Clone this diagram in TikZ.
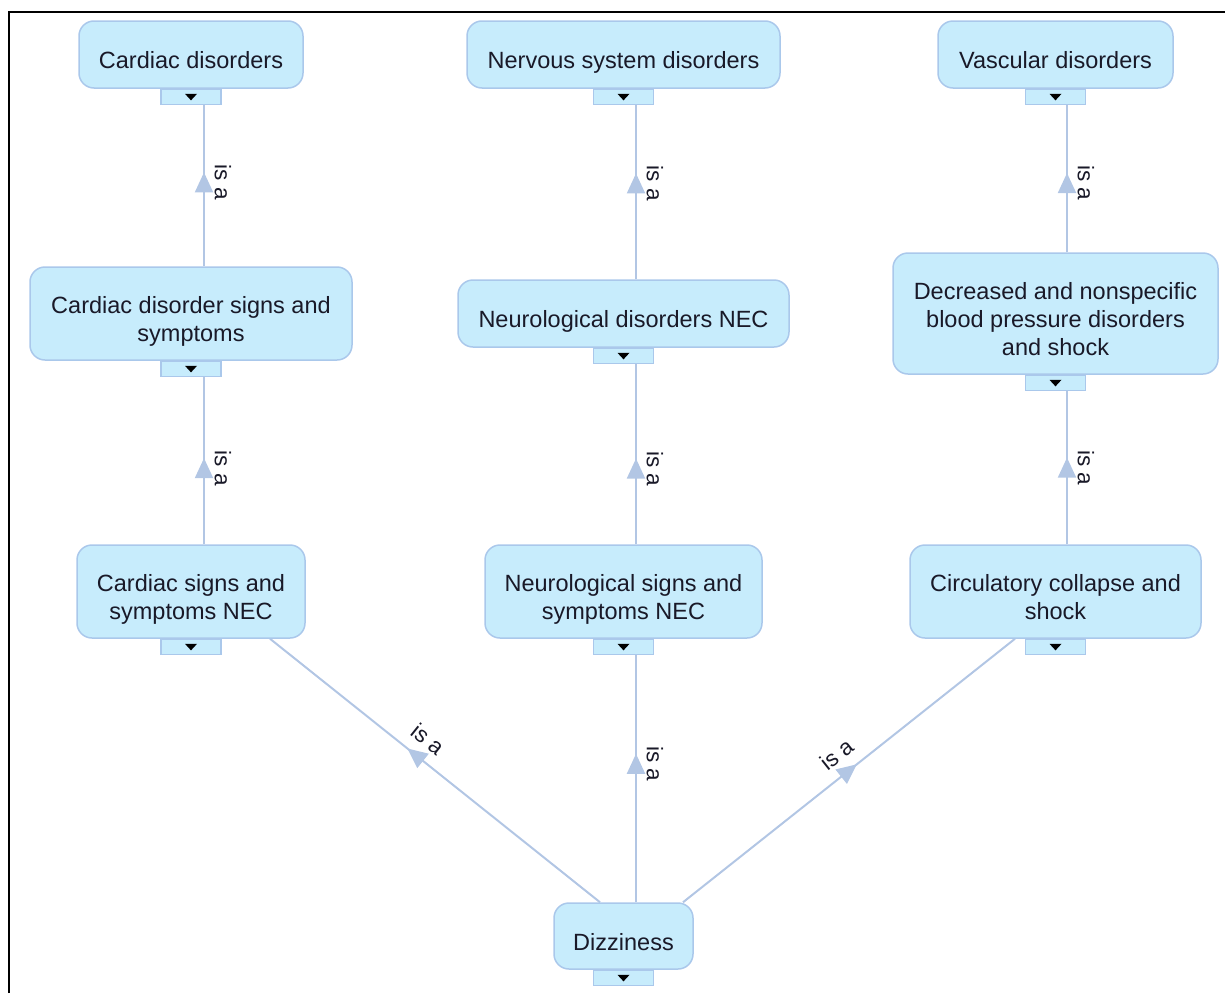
\documentclass[tikz,border=0pt]{standalone}
\usepackage{fontspec}
\setmainfont{Liberation Sans}
\usetikzlibrary{arrows.meta,decorations.markings,backgrounds}
\definecolor{nodefill}{RGB}{199,236,252}
\definecolor{nodeline}{RGB}{170,200,235}
\definecolor{edgecol}{RGB}{178,198,228}
\definecolor{txt}{RGB}{25,25,40}
\newcommand\tl[1]{\raisebox{0pt}[\dimexpr\height+17pt\relax][\depth]{\begin{tabular}{@{}c@{}}#1\end{tabular}}}
\tikzset{
  box/.style={draw=nodeline, fill=nodefill, line width=1.5pt, rounded corners=15pt,
    inner sep=0pt, font=\fontsize{23.5}{28}\selectfont, text=txt},
  tabbox/.style={draw=nodeline, fill=nodefill, line width=1.2pt, minimum width=60pt,
    minimum height=15pt, inner sep=0pt, anchor=north},
  isa/.style={draw=edgecol, line width=2pt},
  lab/.style={font=\fontsize{22.5}{26}\selectfont, inner sep=0pt, text=txt},
  vlab/.style={lab, xshift=19pt, rotate=-90},
  dlab/.style={lab, sloped, above=11pt}
}
\newcommand\mknode[6]{%
  \node[box, minimum width=#4pt, minimum height=#5pt] (#1) at (#2,#3) {\tl{#6}};
  \node[tabbox] (#1t) at (#1.south) {};
  \fill[black] ([xshift=-6pt,yshift=3pt]#1t.center) -- ([xshift=6pt,yshift=3pt]#1t.center)
     -- ([yshift=-3.5pt]#1t.center) -- cycle;
}
\newcommand\isaedge[4]{%
  \draw[isa, postaction={decorate}, decoration={markings, mark=at position #3 with
     {\arrow[edgecol, xshift=10pt]{Triangle[width=18pt,length=20pt]}}}]
     #1 -- #2 node[pos=#3, #4] {is a};
}
\begin{document}
\begin{tikzpicture}[x=1pt, y=-1pt]
\useasboundingbox (0,0) rectangle (1225,993);
\draw[line width=2pt] (9,993) -- (9,12) -- (1226,12);

\mknode{cd}{191}{54.5}{224}{67}{Cardiac disorders}
\mknode{nsd}{623.5}{54.5}{313}{67}{Nervous system disorders}
\mknode{vd}{1055.5}{54.5}{235}{67}{Vascular disorders}
\mknode{cdss}{191}{313.5}{322}{93}{Cardiac disorder signs and\\symptoms}
\mknode{nnec}{623.5}{313.5}{331}{67}{Neurological disorders NEC}
\mknode{dec}{1055.5}{313.5}{325}{121}{Decreased and nonspecific\\blood pressure disorders\\and shock}
\mknode{csnec}{191}{591.5}{228}{93}{Cardiac signs and\\symptoms NEC}
\mknode{nssnec}{623.5}{591.5}{277}{93}{Neurological signs and\\symptoms NEC}
\mknode{ccs}{1055.5}{591.5}{291}{93}{Circulatory collapse and\\shock}
\mknode{dz}{623.5}{936}{139}{66}{Dizziness}

\begin{pgfonlayer}{background}
\isaedge{([xshift=13pt]cdss.north)}{([xshift=13pt]cdt.south)}{0.52}{vlab}
\isaedge{([xshift=12.5pt]nnec.north)}{([xshift=12.5pt]nsdt.south)}{0.55}{vlab}
\isaedge{([xshift=11.5pt]dec.north)}{([xshift=11.5pt]vdt.south)}{0.47}{vlab}
\isaedge{([xshift=13pt]csnec.north)}{([xshift=13pt]cdsst.south)}{0.455}{vlab}
\isaedge{([xshift=12.5pt]nssnec.north)}{([xshift=12.5pt]nnect.south)}{0.42}{vlab}
\isaedge{([xshift=11.5pt]ccs.north)}{([xshift=11.5pt]dect.south)}{0.50}{vlab}
\isaedge{([xshift=12.5pt]dz.north)}{([xshift=12.5pt]nssnect.south)}{0.56}{vlab}
\isaedge{([xshift=-23.5pt]dz.north)}{([xshift=79pt]csnec.south)}{0.56}{dlab}
\isaedge{([xshift=59.5pt]dz.north)}{([xshift=-40.5pt]ccs.south)}{0.50}{dlab}
\end{pgfonlayer}
\end{tikzpicture}
\end{document}
